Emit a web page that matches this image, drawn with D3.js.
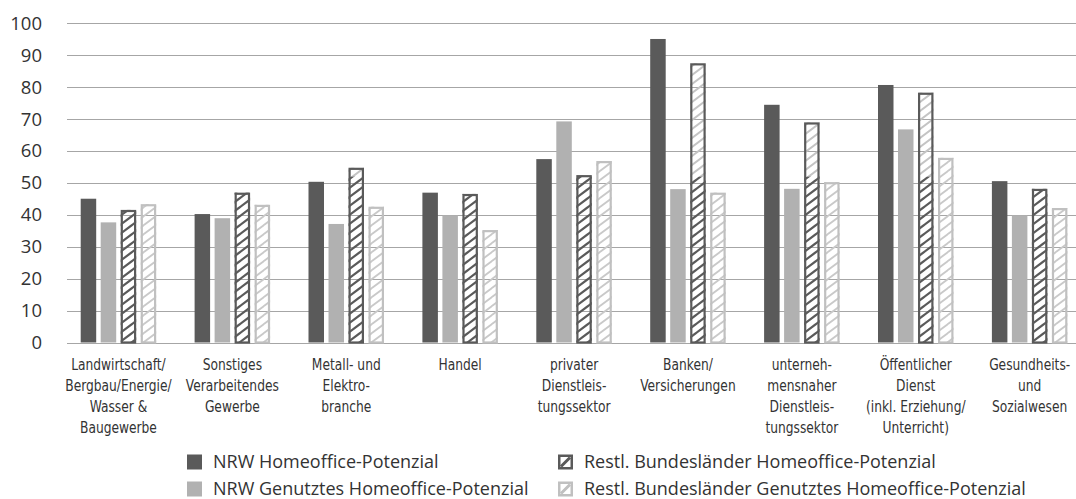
<!DOCTYPE html>
<html><head><meta charset="utf-8">
<script src="https://cdn.jsdelivr.net/npm/d3@7"></script>
<style>
html,body{margin:0;padding:0;background:#fff;}
svg{display:block;}
.cat{font-family:"Liberation Sans Narrow","DejaVu Sans Condensed","Roboto Condensed",sans-serif;font-stretch:condensed;}
</style></head><body>
<svg id="c" width="1076" height="499"></svg>
<script>
const categories = [
  ["Landwirtschaft/","Bergbau/Energie/","Wasser &","Baugewerbe"],
  ["Sonstiges","Verarbeitendes","Gewerbe"],
  ["Metall- und","Elektro-","branche"],
  ["Handel"],
  ["privater","Dienstleis-","tungssektor"],
  ["Banken/","Versicherungen"],
  ["unterneh-","mensnaher","Dienstleis-","tungssektor"],
  ["Öffentlicher","Dienst","(inkl. Erziehung/","Unterricht)"],
  ["Gesundheits-","und","Sozialwesen"]
];
const seriesNames = ["NRW Homeoffice-Potenzial","NRW Genutztes Homeoffice-Potenzial","Restl. Bundesländer Homeoffice-Potenzial","Restl. Bundesländer Genutztes Homeoffice-Potenzial"];
const nrwPot   = [45.0, 40.2, 50.3, 46.9, 57.4, 95.0, 74.4, 80.6, 50.5];
const nrwUsed  = [37.6, 38.9, 37.1, 39.8, 69.2, 48.0, 48.1, 66.7, 39.8];
const restPot  = [41.5, 46.9, 54.7, 46.5, 52.4, 87.4, 68.9, 78.2, 48.1];
const restUsed = [43.3, 43.1, 42.5, 35.2, 56.8, 46.9, 50.2, 57.8, 42.1];
const yTicks = [0,10,20,30,40,50,60,70,80,90,100];

const seriesVals = [nrwPot, nrwUsed, restPot, restUsed];
const catKeys = categories.map((c,i)=>"c"+i);

const DARK="#5a5a5a", LIGHT="#b1b1b1", LBORDER="#c0c0c0", LHATCH="#c9c9c9";
const svg = d3.select("#c");
const defs = svg.append("defs");
function hatch(id,color,sw){
  const W=12,H=9;
  defs.append("pattern").attr("id",id).attr("patternUnits","userSpaceOnUse")
    .attr("width",W).attr("height",H)
    .append("path")
    .attr("d",`M0,${H} L${W},0 M${-W/2},${H/2} L${W/2},${-H/2} M${W/2},${H*1.5} L${W*1.5},${H/2}`)
    .attr("stroke",color).attr("stroke-width",sw).attr("fill","none");
}
hatch("hDark",DARK,2.2);
hatch("hDarkTop","#c4c4c4",2.0);
hatch("hLight",LHATCH,1.8);

const y = d3.scaleLinear().domain([0,100]).range([342.5,23]);
const x0 = d3.scaleBand().domain(catKeys).range([61.5,1086.6]).padding(0);
const x1 = d3.scaleBand().domain([0,1,2,3]).range([0,75.5]).paddingInner(0.225).paddingOuter(0);
const gOff = (x0.bandwidth()-75.5)/2;

// grid
svg.append("g").selectAll("line").data(yTicks).join("line")
  .attr("x1",67).attr("x2",1076)
  .attr("y1",d=>Math.round(y(d))+0.5).attr("y2",d=>Math.round(y(d))+0.5)
  .attr("stroke","#a6a6a6").attr("stroke-width",1);

// y labels
svg.append("g").selectAll("text").data(yTicks).join("text")
  .attr("x",42).attr("y",d=>y(d)).attr("dy","0.36em")
  .attr("text-anchor","end")
  .attr("font-family","'Open Sans',sans-serif").attr("font-size",18.5).attr("fill","#333")
  .text(d=>d);

// bars
const THR = 52;
catKeys.forEach((k,i)=>{
  const gx = x0(k)+gOff;
  const g = svg.append("g");
  seriesVals.forEach((vals,s)=>{
    const v = vals[i];
    const bx = gx + x1(s), bw = x1.bandwidth();
    if(s<2){
      g.append("rect").attr("x",bx).attr("y",y(v)).attr("width",bw).attr("height",y(0)-y(v))
        .attr("fill", s===0?DARK:LIGHT);
    } else if(s===2){
      const lo = Math.min(v,THR);
      g.append("rect").attr("x",bx).attr("y",y(lo)).attr("width",bw).attr("height",y(0)-y(lo)).attr("fill","url(#hDark)");
      if(v>THR){
        g.append("rect").attr("x",bx).attr("y",y(v)).attr("width",bw).attr("height",y(THR)-y(v)).attr("fill","url(#hDarkTop)");
      }
      g.append("rect").attr("x",bx+1.1).attr("y",y(v)+1.1).attr("width",bw-2.2).attr("height",y(0)-y(v)-1.1)
        .attr("fill","none").attr("stroke",DARK).attr("stroke-width",2.2);
    } else {
      g.append("rect").attr("x",bx).attr("y",y(v)).attr("width",bw).attr("height",y(0)-y(v)).attr("fill","url(#hLight)");
      g.append("rect").attr("x",bx+1.1).attr("y",y(v)+1.1).attr("width",bw-2.2).attr("height",y(0)-y(v)-1.1)
        .attr("fill","none").attr("stroke",LBORDER).attr("stroke-width",2.2);
    }
  });
});

// category labels
const cl = svg.append("g").attr("class","cat");
categories.forEach((lines,i)=>{
  const cx = x0(catKeys[i]) + x0.bandwidth()/2;
  const t = cl.append("text").attr("text-anchor","middle").attr("font-size",15.5).attr("fill","#333")
    .attr("transform",`translate(${cx},0) scale(0.88,1)`);
  lines.forEach((ln,j)=>{
    t.append("tspan").attr("x",0).attr("y",370.5+j*20.7).text(ln);
  });
});

// legend
const legPos = [[187,462],[187,489],[558,462],[558,489]];
const lg = svg.append("g");
seriesNames.forEach((name,s)=>{
  const [lx,ly] = legPos[s];
  const sz=15;
  if(s<2){
    lg.append("rect").attr("x",lx).attr("y",ly-sz/2).attr("width",sz).attr("height",sz).attr("fill",s===0?DARK:LIGHT);
  } else {
    const col = s===2?DARK:LBORDER;
    lg.append("rect").attr("x",lx+1.25).attr("y",ly-sz/2+1.25).attr("width",sz-2.5).attr("height",sz-2.5)
      .attr("fill","#fff").attr("stroke",col).attr("stroke-width",2.5);
    lg.append("line").attr("x1",lx+3).attr("y1",ly+sz/2-3).attr("x2",lx+sz-3).attr("y2",ly-sz/2+3)
      .attr("stroke",col).attr("stroke-width",3);
  }
  lg.append("text").attr("x",lx+26).attr("y",ly).attr("dy","0.36em")
    .attr("font-family","'Open Sans',sans-serif").attr("font-size",18).attr("fill","#333").text(name);
});
</script></body></html>
